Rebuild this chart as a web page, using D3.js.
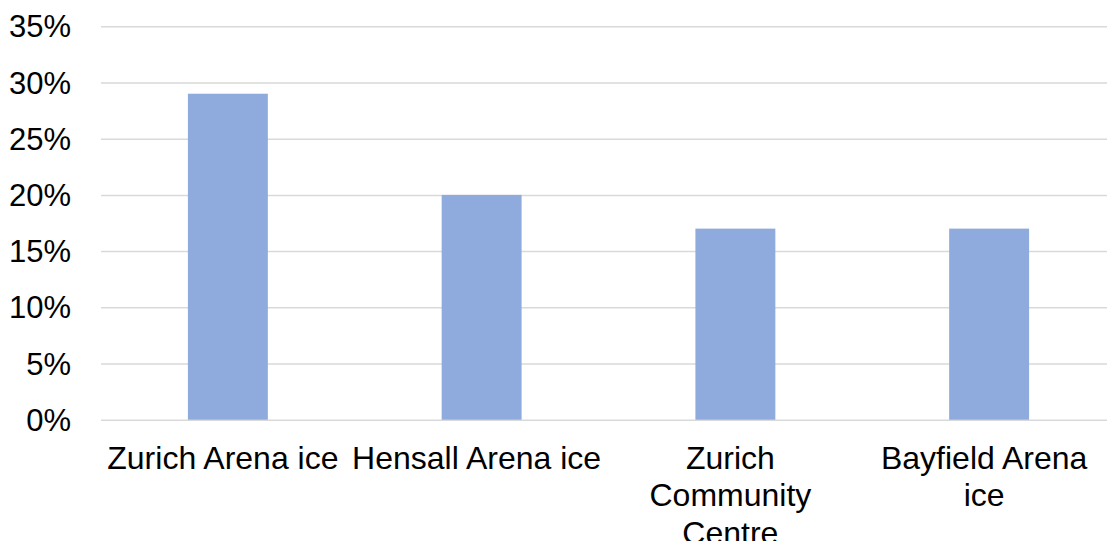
<!DOCTYPE html>
<html>
<head>
<meta charset="utf-8">
<script src="https://cdn.jsdelivr.net/npm/d3@7/dist/d3.min.js"></script>
<style>
  html, body { margin: 0; padding: 0; background: #fff; overflow: hidden; }
  svg { display: block; font-family: "Liberation Sans", Arial, sans-serif; }
</style>
</head>
<body>
<svg id="chart" width="1107" height="541"></svg>
<script>
const categories = ["Zurich Arena ice", "Hensall Arena ice", "Zurich Community Centre", "Bayfield Arena ice"];
const values = [0.29, 0.20, 0.17, 0.17];
const yTicks = [0, 0.05, 0.10, 0.15, 0.20, 0.25, 0.30, 0.35];

const svg = d3.select("#chart");
const fontSize = 31;
const xFontSize = 32;

const x = d3.scaleBand().domain(categories).range([101, 1116]).paddingInner(0.685).paddingOuter(0.3425);
const y = d3.scaleLinear().domain([0, 0.35]).range([419.7, 26.3]);

// gridlines
const yAxis = d3.axisLeft(y).tickValues(yTicks).tickSize(-(1116 - 101)).tickFormat(d3.format(".0%")).tickPadding(30);
const gy = svg.append("g").attr("transform", "translate(101,0)").call(yAxis);
gy.select(".domain").remove();
gy.selectAll(".tick line").attr("stroke", "#d9d9d9").attr("stroke-width", 1.5);
gy.selectAll(".tick text").attr("fill", "#000").style("font-size", fontSize + "px")
  .attr("font-family", "Liberation Sans, Arial, sans-serif").attr("dy", "0.34em");

// bars
svg.append("g").selectAll("rect").data(values).join("rect")
  .attr("x", (d, i) => x(categories[i]))
  .attr("width", x.bandwidth())
  .attr("y", d => y(d))
  .attr("height", d => y(0) - y(d))
  .attr("fill", "#8faadc");

// x labels with wrapping
const maxW = 254;
const gx = svg.append("g");
categories.forEach(c => {
  const cx = x(c) + x.bandwidth() / 2 - 5;
  const t = gx.append("text").attr("x", cx).attr("y", 468.9)
    .attr("text-anchor", "middle").style("font-size", xFontSize + "px").attr("fill", "#000");
  const words = c.split(" ");
  let line = [];
  let tspan = t.append("tspan").attr("x", cx).attr("dy", 0);
  words.forEach(w => {
    line.push(w);
    tspan.text(line.join(" "));
    if (tspan.node().getComputedTextLength() > maxW && line.length > 1) {
      line.pop();
      tspan.text(line.join(" "));
      line = [w];
      tspan = t.append("tspan").attr("x", cx).attr("dy", 37.3).text(w);
    }
  });
});
</script>
</body>
</html>
